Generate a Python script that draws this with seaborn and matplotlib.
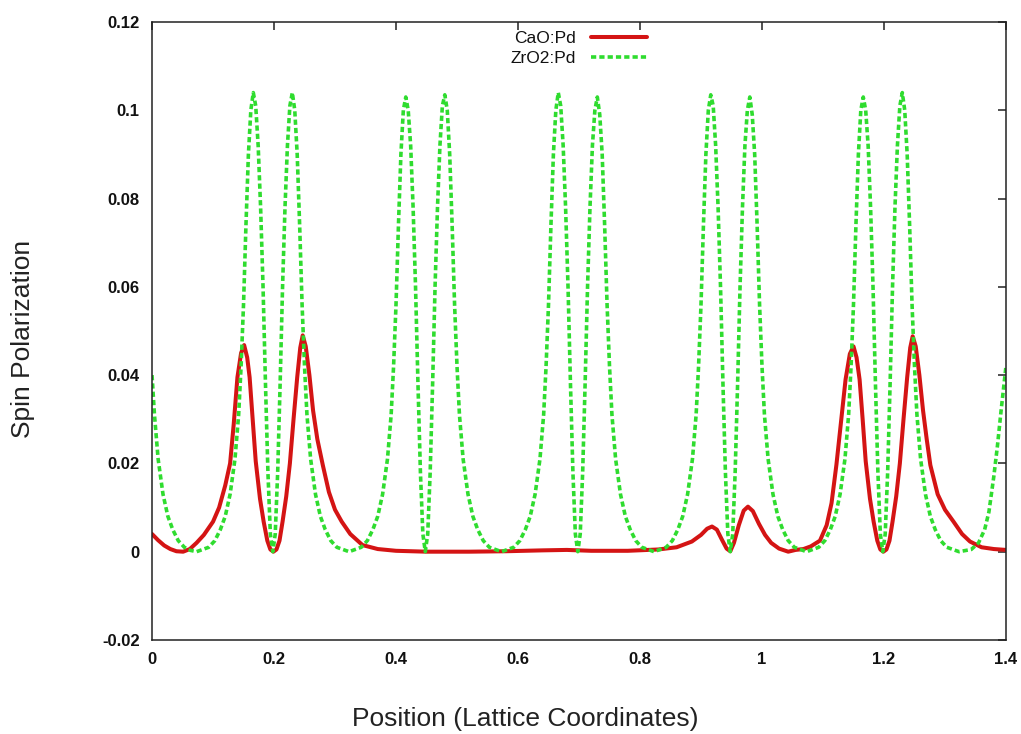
import matplotlib
matplotlib.use("Agg")
import matplotlib.pyplot as plt
import seaborn as sns
import pandas as pd

# ---- data ----
cao_x = [0.000, 0.010, 0.020, 0.030, 0.040, 0.051, 0.062, 0.073, 0.085, 0.100,
         0.110, 0.120, 0.128, 0.134, 0.140, 0.146, 0.151, 0.156, 0.160, 0.165,
         0.170, 0.177, 0.183, 0.189, 0.194, 0.199, 0.204, 0.209, 0.214, 0.220,
         0.226, 0.232, 0.238, 0.243, 0.247, 0.252, 0.258, 0.264, 0.271, 0.280,
         0.290, 0.300, 0.311, 0.325, 0.345, 0.370, 0.400, 0.450, 0.520, 0.580,
         0.640, 0.680, 0.720, 0.780, 0.830, 0.860, 0.885, 0.900, 0.910, 0.918,
         0.926, 0.934, 0.942, 0.948, 0.954, 0.962, 0.970, 0.977, 0.985, 0.995,
         1.005, 1.015, 1.028, 1.043, 1.055, 1.068, 1.080, 1.095, 1.106, 1.114,
         1.122, 1.130, 1.137, 1.144, 1.150, 1.155, 1.160, 1.165, 1.170, 1.177,
         1.183, 1.189, 1.194, 1.199, 1.204, 1.209, 1.214, 1.220, 1.226, 1.232,
         1.238, 1.243, 1.247, 1.252, 1.258, 1.264, 1.270, 1.276, 1.288, 1.300,
         1.314, 1.328, 1.341, 1.360, 1.380, 1.400]
cao_y = [0.0040, 0.0026, 0.0014, 0.0006, 0.0001, 0.0000, 0.0006, 0.0020, 0.0038, 0.0068,
         0.0100, 0.0150, 0.0200, 0.0290, 0.0395, 0.0450, 0.0468, 0.0440, 0.0395, 0.0300,
         0.0205, 0.0120, 0.0068, 0.0025, 0.0005, 0.0000, 0.0005, 0.0025, 0.0068, 0.0125,
         0.0200, 0.0300, 0.0395, 0.0462, 0.0490, 0.0465, 0.0400, 0.0320, 0.0255, 0.0196,
         0.0135, 0.0095, 0.0068, 0.0040, 0.0015, 0.0006, 0.0002, 0.0000, 0.0000, 0.0001,
         0.0003, 0.0004, 0.0002, 0.0002, 0.0005, 0.0010, 0.0023, 0.0038, 0.0052, 0.0057,
         0.0050, 0.0028, 0.0007, 0.0001, 0.0020, 0.0060, 0.0093, 0.0102, 0.0092, 0.0063,
         0.0038, 0.0020, 0.0007, 0.0000, 0.0004, 0.0006, 0.0012, 0.0025, 0.0060, 0.0110,
         0.0197, 0.0300, 0.0390, 0.0448, 0.0465, 0.0440, 0.0390, 0.0300, 0.0205, 0.0120,
         0.0068, 0.0025, 0.0005, 0.0000, 0.0005, 0.0025, 0.0068, 0.0125, 0.0200, 0.0300,
         0.0395, 0.0462, 0.0488, 0.0465, 0.0400, 0.0320, 0.0255, 0.0196, 0.0130, 0.0095,
         0.0068, 0.0040, 0.0023, 0.0010, 0.0006, 0.0004]

zro2_x = [0.000, 0.004, 0.010, 0.018, 0.026, 0.034, 0.043, 0.053, 0.063, 0.073,
          0.093, 0.103, 0.112, 0.120, 0.128, 0.136, 0.142, 0.146, 0.150, 0.154,
          0.158, 0.162, 0.166, 0.170, 0.174, 0.178, 0.182, 0.186, 0.190, 0.194,
          0.198, 0.202, 0.206, 0.210, 0.214, 0.218, 0.222, 0.226, 0.230, 0.234,
          0.238, 0.242, 0.246, 0.250, 0.254, 0.260, 0.268, 0.276, 0.284, 0.293,
          0.303, 0.323,
          0.343, 0.353, 0.362, 0.370, 0.378, 0.386, 0.392, 0.396, 0.400, 0.404,
          0.408, 0.412, 0.416, 0.420, 0.424, 0.428, 0.432, 0.436, 0.440, 0.444,
          0.448, 0.452, 0.456, 0.460, 0.464, 0.468, 0.472, 0.476, 0.480, 0.484,
          0.488, 0.492, 0.496, 0.500, 0.504, 0.510, 0.518, 0.526, 0.534, 0.543,
          0.553, 0.573,
          0.593, 0.603, 0.612, 0.620, 0.628, 0.636, 0.642, 0.646, 0.650, 0.654,
          0.658, 0.662, 0.666, 0.670, 0.674, 0.678, 0.682, 0.686, 0.690, 0.694,
          0.698, 0.702, 0.706, 0.710, 0.714, 0.718, 0.722, 0.726, 0.730, 0.734,
          0.738, 0.742, 0.746, 0.750, 0.754, 0.760, 0.768, 0.776, 0.784, 0.793,
          0.803, 0.823,
          0.843, 0.853, 0.862, 0.870, 0.878, 0.886, 0.892, 0.896, 0.900, 0.904,
          0.908, 0.912, 0.916, 0.920, 0.924, 0.928, 0.932, 0.936, 0.940, 0.944,
          0.948, 0.952, 0.956, 0.960, 0.964, 0.968, 0.972, 0.976, 0.980, 0.984,
          0.988, 0.992, 0.996, 1.000, 1.004, 1.010, 1.018, 1.026, 1.034, 1.043,
          1.053, 1.073,
          1.093, 1.103, 1.112, 1.120, 1.128, 1.136, 1.142, 1.146, 1.150, 1.154,
          1.158, 1.162, 1.166, 1.170, 1.174, 1.178, 1.182, 1.186, 1.190, 1.194,
          1.198, 1.202, 1.206, 1.210, 1.214, 1.218, 1.222, 1.226, 1.230, 1.234,
          1.238, 1.242, 1.246, 1.250, 1.254, 1.260, 1.268, 1.276, 1.284, 1.293,
          1.303, 1.323,
          1.343, 1.355, 1.365, 1.372, 1.380, 1.386, 1.392, 1.400]
zro2_y = [0.0400, 0.0310, 0.0210, 0.0130, 0.0080, 0.0050, 0.0025, 0.0010, 0.0003, 0.0000,
          0.0010, 0.0025, 0.0050, 0.0080, 0.0130, 0.0210, 0.0310, 0.0420, 0.0560, 0.0740,
          0.0900, 0.1000, 0.1040, 0.1010, 0.0920, 0.0780, 0.0600, 0.0380, 0.0180, 0.0040,
          0.0000, 0.0040, 0.0180, 0.0380, 0.0600, 0.0780, 0.0920, 0.1010, 0.1040, 0.1000,
          0.0900, 0.0740, 0.0560, 0.0420, 0.0310, 0.0210, 0.0130, 0.0080, 0.0050, 0.0025,
          0.0010, 0.0000,
          0.0010, 0.0025, 0.0050, 0.0080, 0.0130, 0.0210, 0.0310, 0.0420, 0.0560, 0.0740,
          0.0900, 0.1000, 0.1030, 0.1000, 0.0920, 0.0780, 0.0600, 0.0380, 0.0180, 0.0040,
          0.0000, 0.0040, 0.0180, 0.0380, 0.0600, 0.0780, 0.0920, 0.1010, 0.1035, 0.1000,
          0.0900, 0.0740, 0.0560, 0.0420, 0.0310, 0.0210, 0.0130, 0.0080, 0.0050, 0.0025,
          0.0010, 0.0000,
          0.0010, 0.0025, 0.0050, 0.0080, 0.0130, 0.0210, 0.0310, 0.0420, 0.0560, 0.0740,
          0.0900, 0.1000, 0.1040, 0.1010, 0.0920, 0.0780, 0.0600, 0.0380, 0.0180, 0.0040,
          0.0000, 0.0040, 0.0180, 0.0380, 0.0600, 0.0780, 0.0920, 0.1000, 0.1030, 0.0990,
          0.0900, 0.0740, 0.0560, 0.0420, 0.0310, 0.0210, 0.0130, 0.0080, 0.0050, 0.0025,
          0.0010, 0.0000,
          0.0010, 0.0025, 0.0050, 0.0080, 0.0130, 0.0210, 0.0310, 0.0420, 0.0560, 0.0740,
          0.0900, 0.1000, 0.1035, 0.1010, 0.0920, 0.0780, 0.0600, 0.0380, 0.0180, 0.0040,
          0.0000, 0.0040, 0.0180, 0.0380, 0.0600, 0.0780, 0.0920, 0.1000, 0.1030, 0.0990,
          0.0900, 0.0740, 0.0560, 0.0420, 0.0310, 0.0210, 0.0130, 0.0080, 0.0050, 0.0025,
          0.0010, 0.0000,
          0.0010, 0.0025, 0.0050, 0.0080, 0.0130, 0.0210, 0.0310, 0.0420, 0.0560, 0.0740,
          0.0900, 0.1000, 0.1030, 0.1000, 0.0920, 0.0780, 0.0600, 0.0380, 0.0180, 0.0040,
          0.0000, 0.0040, 0.0180, 0.0380, 0.0600, 0.0780, 0.0920, 0.1010, 0.1040, 0.1000,
          0.0900, 0.0740, 0.0560, 0.0420, 0.0310, 0.0210, 0.0130, 0.0080, 0.0050, 0.0025,
          0.0010, 0.0000,
          0.0005, 0.0020, 0.0050, 0.0090, 0.0170, 0.0240, 0.0320, 0.0420]

series_labels = ["CaO:Pd", "ZrO2:Pd"]
x_ticks = [0, 0.2, 0.4, 0.6, 0.8, 1.0, 1.2, 1.4]
x_tick_labels = ["0", "0.2", "0.4", "0.6", "0.8", "1", "1.2", "1.4"]
y_ticks = [-0.02, 0, 0.02, 0.04, 0.06, 0.08, 0.10, 0.12]
y_tick_labels = ["-0.02", "0", "0.02", "0.04", "0.06", "0.08", "0.1", "0.12"]

# ---- style ----
sns.set_style("white")
plt.rcParams["font.family"] = ["Liberation Sans", "DejaVu Sans"]

fig = plt.figure(figsize=(10.21, 7.34), dpi=100)
ax = fig.add_axes([0.1489, 0.1281, 0.8364, 0.8420])

red = "#d41414"
green = "#2fdc2f"

df_cao = pd.DataFrame({"x": cao_x, "y": cao_y})
df_zro = pd.DataFrame({"x": zro2_x, "y": zro2_y})

sns.lineplot(data=df_cao, x="x", y="y", ax=ax, color=red, linewidth=2.9,
             label=series_labels[0], estimator=None, sort=False)
sns.lineplot(data=df_zro, x="x", y="y", ax=ax, color=green, linewidth=2.6,
             linestyle=(0, (1.45, 0.85)), label=series_labels[1],
             estimator=None, sort=False)

ax.set_xlim(0, 1.4)
ax.set_ylim(-0.02, 0.12)
ax.set_xticks(x_ticks)
ax.set_xticklabels(x_tick_labels)
ax.set_yticks(y_ticks)
ax.set_yticklabels(y_tick_labels)
ax.set_xlabel("")
ax.set_ylabel("")

for s in ax.spines.values():
    s.set_visible(True)
    s.set_color("#222222")
    s.set_linewidth(1.1)

ax.tick_params(axis="both", which="major", direction="in", length=6, width=1.1,
               color="#222222", top=True, right=True, labelsize=12, pad=9)
for lab in ax.get_xticklabels() + ax.get_yticklabels():
    lab.set_fontweight("bold")
    lab.set_color("#111111")

fig.text(0.0225, 0.538, "Spin Polarization", rotation=90, ha="center",
         va="center", fontsize=19, color="#222222")
fig.text(0.514, 0.021, "Position (Lattice Coordinates)", ha="center",
         va="center", fontsize=19, color="#222222")

handles, labels = ax.get_legend_handles_labels()
leg = ax.legend(handles, labels, loc="upper right",
                bbox_to_anchor=(0.6337, 0.958), bbox_transform=fig.transFigure,
                frameon=False, markerfirst=False, fontsize=12.5,
                handlelength=3.2, handletextpad=0.9, labelspacing=0.3,
                borderpad=0, borderaxespad=0)
for t in leg.get_texts():
    t.set_color("#111111")

fig.savefig("out.png", dpi=100, facecolor="white")
